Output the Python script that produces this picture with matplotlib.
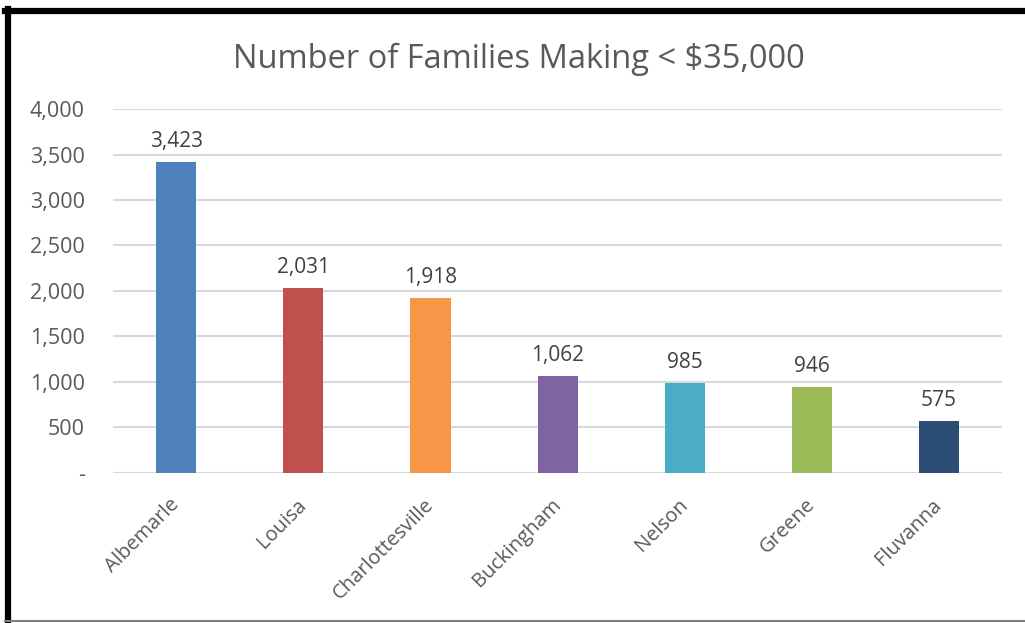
import numpy as np
import matplotlib.pyplot as plt
from matplotlib.lines import Line2D

counties = ["Albemarle", "Louisa", "Charlottesville", "Buckingham", "Nelson", "Greene", "Fluvanna"]
families = [3423, 2031, 1918, 1062, 985, 946, 575]
bar_colors = ["#4f81bd", "#c0504d", "#f79646", "#8064a2", "#4bacc6", "#9bbb59", "#2c4d75"]
y_ticks = [0, 500, 1000, 1500, 2000, 2500, 3000, 3500, 4000]

plt.rcParams['font.family'] = ['Open Sans', 'DejaVu Sans']
gray = "#595959"

fig = plt.figure(figsize=(10.25, 6.23), dpi=100)
ax = fig.add_axes([0.110, 0.241, 0.868, 0.584])

x = np.arange(len(counties))
bars = ax.bar(x, families, width=0.315, color=bar_colors, zorder=3)

for xi, v in zip(x, families):
    ax.text(xi, v + 110, f"{v:,}", ha="center", va="bottom", fontsize=15, color="#404040")

ax.set_xlim(-0.5, len(counties) - 0.5)
ax.set_ylim(0, 4000)
ax.set_yticks(y_ticks)
ax.set_yticklabels(["-" if t == 0 else f"{t:,}" for t in y_ticks])
ax.set_xticks(x)
ax.set_xticklabels(counties, rotation=45, ha="right", va="center", rotation_mode="anchor")
ax.tick_params(axis="y", length=0, labelsize=15.5, colors=gray, pad=20)
ax.tick_params(axis="x", length=0, labelsize=14.5, colors=gray, pad=21)
ax.grid(axis="y", color="#d9d9d9", linewidth=1.5, zorder=0)
for s in ax.spines.values():
    s.set_visible(False)

fig.text(0.506, 0.905, "Number of Families Making < $35,000", ha="center", va="center",
         fontsize=23.5, color=gray)

# outer frame
fig.add_artist(Line2D([0.005, 1.0], [0.982, 0.982], color="black", linewidth=4.5))
fig.add_artist(Line2D([0.0078, 0.0078], [0.0, 0.985], color="black", linewidth=4.5))
fig.add_artist(Line2D([0.005, 1.0], [0.0025, 0.0025], color="#808080", linewidth=1.5))

fig.savefig("out.png", dpi=100)
